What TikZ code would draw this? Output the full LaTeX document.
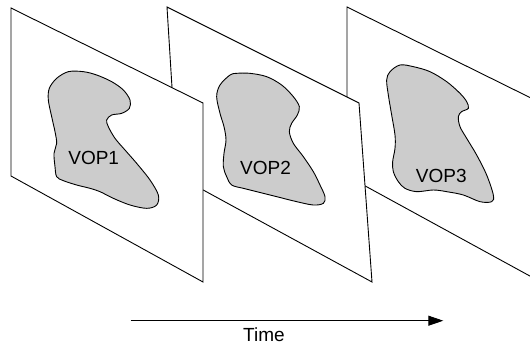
\documentclass[tikz,border=0pt]{standalone}
\usepackage{fontspec}
\setmainfont{Liberation Sans}
\usetikzlibrary{arrows.meta}
\begin{document}
\begin{tikzpicture}[x=1pt,y=-1pt,
  frame/.style={draw=black,fill=white,line width=0.9pt,line join=miter},
  blob/.style={draw=black,fill=black!20,line width=0.9pt},
  lbl/.style={font=\fontsize{19}{22}\selectfont,inner sep=0pt}]
\useasboundingbox (0,0) rectangle (530,345);
\clip (0,0) rectangle (530,345);
% frame 3
\draw[frame] (347,7) -- (539,102) -- (539,281) -- (347,176) -- cycle;
\begin{scope}[shift={(380,55)},scale=1/3]
\draw[blob] plot[smooth cycle,tension=0.55] coordinates {
 (60,30) (30,50) (20,75) (25,120) (35,180) (45,240) (45,280) (38,320) (40,350)
 (55,380) (75,400) (110,410) (160,405) (200,410) (250,420) (300,440) (335,440)
 (340,420) (320,360) (290,300) (260,250) (240,215) (235,185) (245,170) (265,160)
 (260,140) (240,115) (200,80) (150,50) (100,35)};
\end{scope}
\node[lbl] (v3) at (441.3,176) {VOP3};
% frame 2
\draw[frame] (167,7) -- (359,103) -- (372,282) -- (177.5,176) -- cycle;
\begin{scope}[shift={(210,60)},scale=1/3]
\draw[blob] plot[smooth cycle,tension=0.55] coordinates {
 (80,40) (60,45) (30,75) (20,110) (30,160) (42,200) (48,240) (42,280) (40,320)
 (50,350) (65,375) (100,385) (140,395) (200,410) (260,425) (310,435) (340,430)
 (345,410) (330,375) (310,335) (280,290) (250,250) (238,215) (245,190) (262,165)
 (268,140) (250,110) (215,75) (170,50) (120,40)};
\end{scope}
\node[lbl] (v2) at (265.5,168) {VOP2};
% frame 1
\draw[frame] (11,8) -- (203,103) -- (203,282) -- (11,176) -- cycle;
\begin{scope}[shift={(40,60)},scale=1/3]
\draw[blob] plot[smooth cycle,tension=0.55] coordinates {
 (85,35) (50,55) (28,85) (25,120) (35,170) (45,215) (50,250) (42,280) (45,320)
 (50,350) (70,362) (110,375) (150,385) (180,395) (220,415) (270,435) (320,445)
 (350,435) (355,405) (330,360) (290,310) (255,270) (225,235) (205,200) (200,180)
 (215,165) (245,160) (268,145) (270,120) (250,90) (215,65) (170,45) (130,35)};
\end{scope}
\node[lbl] (v1) at (93.7,158) {VOP1};
% time arrow
\coordinate (ta) at (130.7,320.7);
\coordinate (tb) at (443.3,320.7);
\draw[line width=0.9pt,-{Triangle[length=15pt,width=10pt]}] (ta) -- (tb);
\node[lbl,anchor=base] (time) at (264,341) {Time};
\end{tikzpicture}
\end{document}
